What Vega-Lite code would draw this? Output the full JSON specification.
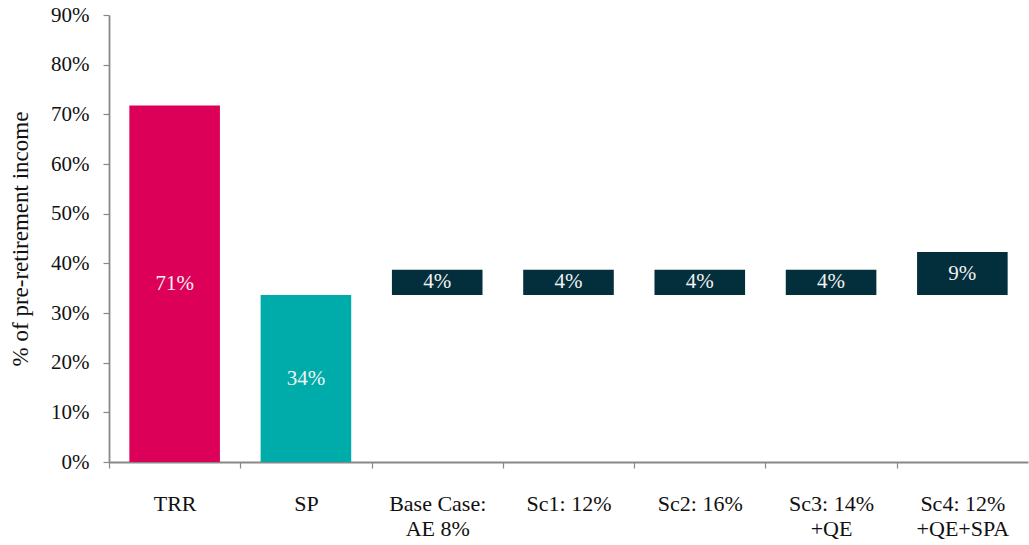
{
  "$schema": "https://vega.github.io/schema/vega-lite/v6.json",
  "width": 919,
  "height": 447,
  "autosize": {"type": "none"},
  "padding": {"left": 109, "top": 15, "right": 1, "bottom": 83},
  "background": "white",
  "config": {
    "view": {"stroke": null},
    "font": "Liberation Serif"
  },
  "data": {
    "values": [
      {"cat": "TRR", "start": 0, "end": 71.8, "label": "71%", "kind": "TRR"},
      {"cat": "SP", "start": 0, "end": 33.6, "label": "34%", "kind": "SP"},
      {"cat": "Base Case:|AE 8%", "start": 33.6, "end": 38.7, "label": "4%", "kind": "AE"},
      {"cat": "Sc1: 12%", "start": 33.6, "end": 38.7, "label": "4%", "kind": "AE"},
      {"cat": "Sc2: 16%", "start": 33.6, "end": 38.7, "label": "4%", "kind": "AE"},
      {"cat": "Sc3: 14%|+QE", "start": 33.6, "end": 38.7, "label": "4%", "kind": "AE"},
      {"cat": "Sc4: 12%|+QE+SPA", "start": 33.6, "end": 42.3, "label": "9%", "kind": "AE"}
    ]
  },
  "transform": [{"calculate": "(datum.start + datum.end) / 2", "as": "mid"}],
  "encoding": {
    "x": {
      "field": "cat",
      "type": "nominal",
      "sort": null,
      "scale": {"paddingInner": 0.31, "paddingOuter": 0.155},
      "axis": {
        "title": null,
        "labelAngle": 0,
        "labelExpr": "split(datum.value, '|')",
        "labelFont": "Liberation Serif",
        "labelFontSize": 22,
        "labelColor": "#111111",
        "labelPadding": 25,
        "labelLineHeight": 25,
        "labelBaseline": "top",
        "bandPosition": 0,
        "tickOffset": -20.3,
        "labelOffset": 20.3,
        "tickColor": "#888888",
        "tickSize": 6,
        "tickWidth": 1.2,
        "domainColor": "#888888",
        "domainWidth": 1.8
      }
    }
  },
  "layer": [
    {
      "mark": {"type": "bar"},
      "encoding": {
        "y": {
          "field": "start",
          "type": "quantitative",
          "scale": {"domain": [0, 90]},
          "axis": {
            "title": "% of pre-retirement income",
            "titleFont": "Liberation Serif",
            "titleFontSize": 23,
            "titleFontWeight": "normal",
            "titleColor": "#111111",
            "titlePadding": 18,
            "values": [0, 10, 20, 30, 40, 50, 60, 70, 80, 90],
            "labelExpr": "datum.value + '%'",
            "labelFont": "Liberation Serif",
            "labelFontSize": 21,
            "labelColor": "#111111",
            "labelPadding": 14,
            "grid": false,
            "tickColor": "#888888",
            "tickSize": 6,
            "tickWidth": 1.2,
            "domainColor": "#888888",
            "domainWidth": 1.8
          }
        },
        "y2": {"field": "end"},
        "color": {
          "field": "kind",
          "type": "nominal",
          "scale": {"domain": ["TRR", "SP", "AE"], "range": ["#DC0058", "#00ACA9", "#032E3B"]},
          "legend": null
        }
      }
    },
    {
      "mark": {"type": "text", "baseline": "middle", "align": "center", "fontSize": 21, "color": "#F2F2F2", "font": "Liberation Serif"},
      "encoding": {
        "y": {"field": "mid", "type": "quantitative"},
        "text": {"field": "label"}
      }
    }
  ]
}
